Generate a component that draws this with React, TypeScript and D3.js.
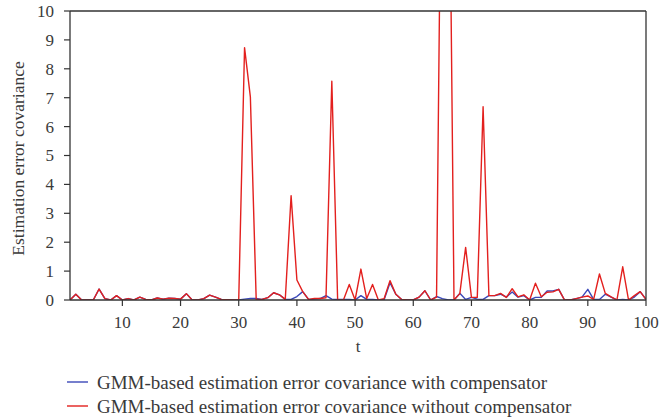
import React from "react";
import * as d3 from "d3";

const tValues: number[] = d3.range(1, 101);

const withoutCompensator: number[] = [
  0, 0.2, 0, 0, 0, 0.38, 0.05, 0, 0.15, 0,
  0.05, 0, 0.1, 0.02, 0, 0.07, 0.03, 0.06, 0.05, 0.03,
  0.22, 0, 0, 0.05, 0.17, 0.1, 0.02, 0.01, 0, 0,
  8.73, 7.03, 0.03, 0.02, 0.08, 0.25, 0.18, 0.02, 3.61, 0.69,
  0.29, 0.02, 0.05, 0.05, 0.08, 7.57, 0, 0, 0.54, 0,
  1.07, 0.05, 0.54, 0, 0.05, 0.67, 0.2, 0.02, 0, 0,
  0.1, 0.32, 0, 0.1, 20, 20, 0, 0.22, 1.82, 0.09,
  0.09, 6.69, 0.15, 0.15, 0.23, 0.09, 0.39, 0.11, 0.18, 0,
  0.58, 0.11, 0.27, 0.28, 0.37, 0, 0, 0.05, 0.1, 0.14,
  0.02, 0.9, 0.23, 0.11, 0, 1.15, 0, 0.15, 0.29, 0.02,
];

const withCompensator: number[] = [
  0, 0.2, 0, 0, 0, 0.38, 0.05, 0, 0.15, 0,
  0.05, 0, 0.1, 0.02, 0, 0.07, 0.03, 0.06, 0.05, 0.03,
  0.22, 0, 0, 0.05, 0.17, 0.1, 0.02, 0.01, 0, 0,
  0.03, 0.05, 0.05, 0.02, 0.08, 0.25, 0.18, 0.02, 0.02, 0.12,
  0.29, 0.02, 0.03, 0.05, 0.15, 0.03, 0.02, 0.02, 0.02, 0,
  0.15, 0.02, 0.02, 0, 0.02, 0.6, 0.2, 0.02, 0, 0,
  0.1, 0.32, 0, 0.12, 0.05, 0, 0, 0.23, 0.02, 0.09,
  0.03, 0.02, 0.15, 0.15, 0.2, 0.1, 0.28, 0.1, 0.15, 0,
  0.09, 0.09, 0.31, 0.31, 0.37, 0, 0, 0.05, 0.1, 0.37,
  0.02, 0.02, 0.2, 0.1, 0, 0.02, 0, 0.1, 0.29, 0.02,
];

const xTicks: number[] = [10, 20, 30, 40, 50, 60, 70, 80, 90, 100];
const yTicks: number[] = [0, 1, 2, 3, 4, 5, 6, 7, 8, 9, 10];

const seriesNames: string[] = [
  "GMM-based estimation error covariance with compensator",
  "GMM-based estimation error covariance without compensator",
];
const seriesColors: string[] = ["#3b48b8", "#e3201e"];

const W = 659;
const H = 419;
const M = { left: 70, right: 13, top: 11, bottom: 119 };
const FONT = "'Liberation Serif', 'Times New Roman', serif";
const AXIS = "#333333";
const TEXT = "#3a3a3a";

export default function App() {
  const x = d3.scaleLinear().domain([1, 100]).range([M.left, W - M.right]);
  const y = d3.scaleLinear().domain([0, 10]).range([H - M.bottom, M.top]);
  const line = d3
    .line<number>()
    .x((_, i) => x(tValues[i]))
    .y((d) => y(d));

  const x0 = x(1);
  const x1 = x(100);
  const y0 = y(0);
  const y1 = y(10);

  return (
    <svg
      width={W}
      height={H}
      style={{ position: "absolute", left: 0, top: 0, background: "#fff" }}
      fontFamily={FONT}
    >
      <defs>
        <clipPath id="plotClip">
          <rect x={x0} y={y1} width={x1 - x0} height={y0 - y1} />
        </clipPath>
      </defs>
      <rect x={0} y={0} width={W} height={H} fill="#fff" />

      <g clipPath="url(#plotClip)">
        <path d={line(withCompensator) || ""} fill="none" stroke={seriesColors[0]} strokeWidth={1.4} strokeLinejoin="round" />
        <path d={line(withoutCompensator) || ""} fill="none" stroke={seriesColors[1]} strokeWidth={1.4} strokeLinejoin="round" />
      </g>

      {/* frame */}
      <line x1={x0} x2={x1} y1={y1} y2={y1} stroke={AXIS} strokeWidth={1.3} />
      <line x1={x1} x2={x1} y1={y1} y2={y0} stroke={AXIS} strokeWidth={1.3} />
      <line x1={x0} x2={x0} y1={y1} y2={y0} stroke={AXIS} strokeWidth={1.3} />
      <line x1={x0} x2={x1} y1={y0} y2={y0} stroke={AXIS} strokeWidth={1.3} />

      {yTicks.map((t) => (
        <g key={"y" + t}>
          <line x1={x0 - 6} x2={x0} y1={y(t)} y2={y(t)} stroke={AXIS} strokeWidth={1.2} />
          <text x={x0 - 16} y={y(t)} dy="0.35em" textAnchor="end" fontSize={17} fill={TEXT}>
            {t}
          </text>
        </g>
      ))}
      {xTicks.map((t) => (
        <g key={"x" + t}>
          <line x1={x(t)} x2={x(t)} y1={y0} y2={y0 + 6} stroke={AXIS} strokeWidth={1.2} />
          <text x={x(t)} y={y0 + 22} dy="0.35em" textAnchor="middle" fontSize={17} fill={TEXT}>
            {t}
          </text>
        </g>
      ))}

      <text x={(x0 + x1) / 2} y={352} textAnchor="middle" fontSize={17} fill={TEXT}>
        t
      </text>
      <text
        transform={`translate(24, ${(y0 + y1) / 2 + 3}) rotate(-90)`}
        textAnchor="middle"
        fontSize={17.5}
        fill={TEXT}
      >
        Estimation error covariance
      </text>

      {seriesNames.map((name, i) => (
        <g key={name} transform={`translate(0, ${382 + i * 24})`}>
          <line x1={67} x2={88} y1={0} y2={0} stroke={seriesColors[i]} strokeWidth={1.4} />
          <text x={97} y={0} dy="0.35em" fontSize={19} fill={TEXT}>
            {name}
          </text>
        </g>
      ))}
    </svg>
  );
}
